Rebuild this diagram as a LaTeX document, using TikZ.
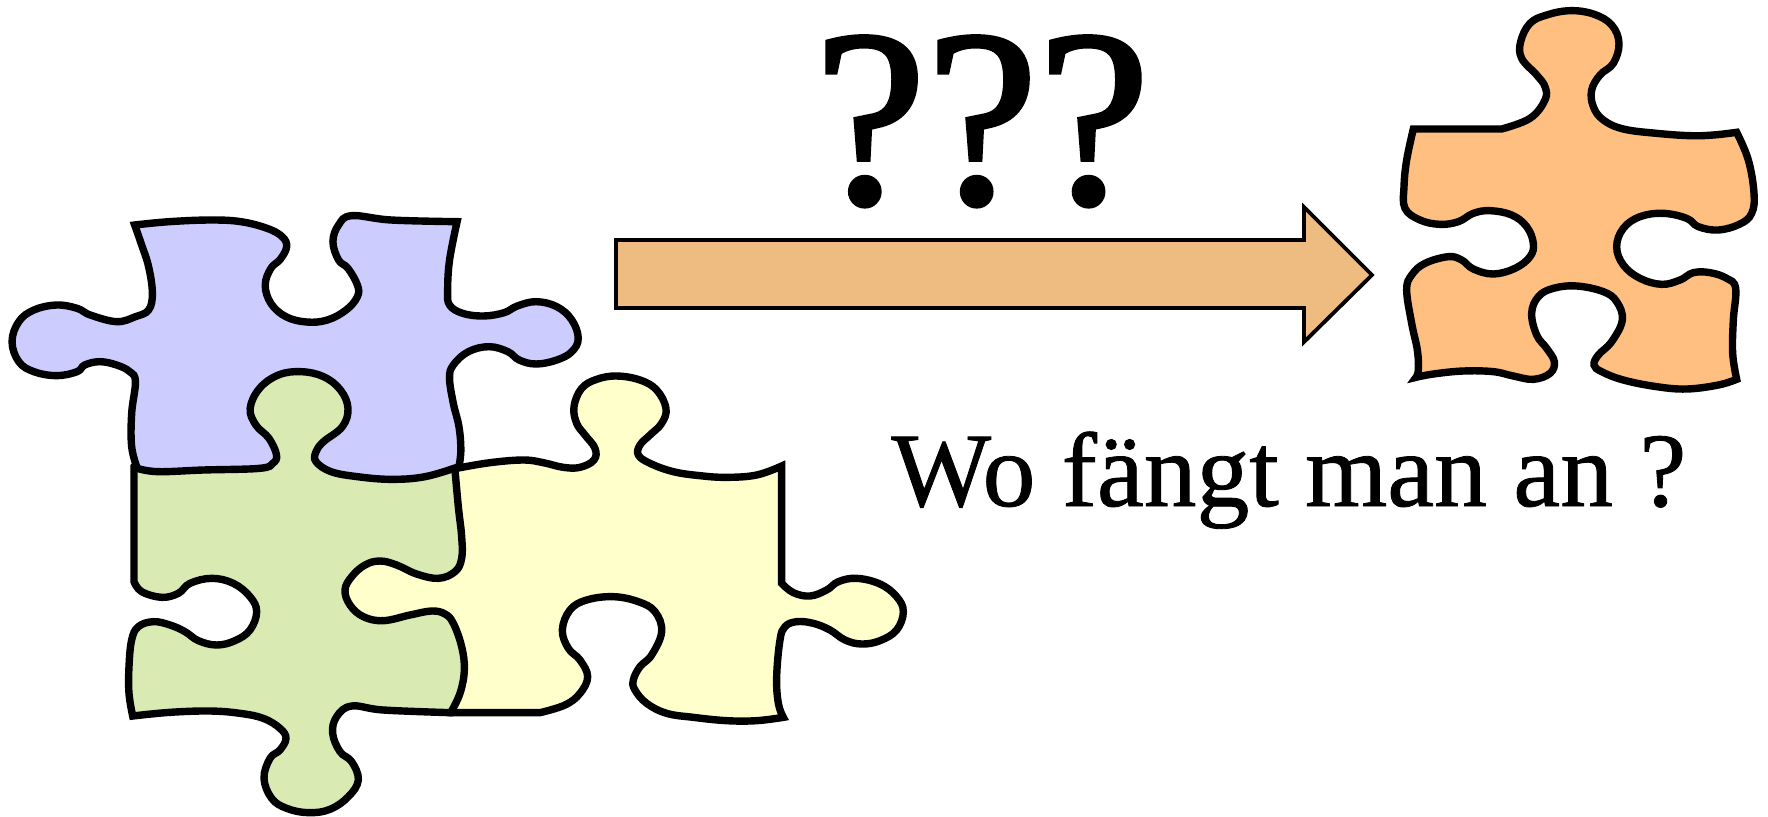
\documentclass[tikz,border=0pt]{standalone}
\usepackage{fontspec}
\setmainfont{Liberation Serif}
\newfontfamily\bigmarkfont[FakeBold=1.6]{Liberation Serif}
\newfontfamily\questionfont[FakeBold=0.8]{Liberation Serif}
\definecolor{cpurple}{HTML}{CCCCFF}
\definecolor{cgreen}{HTML}{D9EAB3}
\definecolor{cyellow}{HTML}{FFFFCC}
\definecolor{corange}{HTML}{FFBF80}
\definecolor{carrow}{HTML}{EEBC80}
\tikzset{piece/.style={draw=black,line width=3.7pt,line join=miter,miter limit=10},
 sm/.style={smooth,tension=0.65},
 bigmark/.style={inner sep=0pt,anchor=base west,font=\bigmarkfont\fontsize{126}{126}\selectfont},
 question/.style={inner sep=0pt,anchor=base west,font=\questionfont\fontsize{52.8}{52}\selectfont}}
\begin{document}
\begin{tikzpicture}[x=0.5pt,y=-0.5pt]
\useasboundingbox (0,0) rectangle (1768,816);
% yellow
\begin{scope}[shift={(440,360)},scale=1/3]
\draw[piece,fill=cyellow] plot[sm] coordinates {(50,325)(150,308)(250,300)(310,308)(370,322)(420,322)(462,300)(465,265)(435,225)(410,190)(402,140)(425,85)(470,58)(530,48)(600,60)(650,90)(678,145)(665,190)(630,225)(600,255)(595,285)(630,310)(700,335)(780,347)(860,352)(950,345)(1025,318)}
 -- (1025,670) -- plot[sm] coordinates {(1025,670)(1060,698)(1110,708)(1160,690)(1195,665)(1250,655)(1320,672)(1370,710)(1390,755)(1370,810)(1320,842)(1265,852)(1215,840)(1170,810)(1120,790)(1070,785)(1035,800)(1020,840)(1010,950)(1015,1030)(1030,1072)}
 -- plot[sm] coordinates {(1030,1072)(950,1082)(860,1082)(760,1072)(680,1060)(620,1030)(585,990)(580,960)(600,920)(635,885)(665,815)(645,755)(595,725)(520,710)(440,720)(390,750)(367,810)(385,865)(420,900)(443,950)(420,1000)(375,1035)(300,1058)}
 -- (30,1058) -- (-100,1000) -- (-330,760) -- (-330,600) -- (-100,500) -- cycle;
\end{scope}
% green
\begin{scope}[shift={(110,450)},scale=1/3]
\draw[piece,fill=cgreen] (72,50) -- (72,395) -- plot[sm] coordinates {(72,395)(95,425)(155,442)(205,430)(240,400)(305,385)(370,400)(420,440)(440,485)(420,540)(375,572)(320,585)(265,572)(225,545)(180,525)(130,515)(85,530)(65,570)(57,650)(57,730)(68,798)}
 -- plot[sm] coordinates {(68,798)(180,787)(300,783)(390,790)(460,805)(510,835)(528,865)(510,900)(480,925)(462,985)(485,1045)(530,1075)(595,1088)(660,1078)(715,1040)(745,990)(725,935)(690,905)(668,850)(680,800)(725,768)(820,780)(1022,788)}
 -- plot[sm] coordinates {(1022,788)(1050,730)(1063,660)(1055,590)(1030,520)(1005,492)(965,483)(900,495)(820,512)(760,500)(720,465)(705,420)(725,380)(765,345)(810,333)(860,345)(920,372)(985,385)(1035,365)(1055,325)(1055,260)(1045,170)(1035,60)}
 -- (780,-100) -- (780,-300) -- (250,-300) -- (250,-100) -- cycle;
\end{scope}
% purple
\begin{scope}[shift={(0,200)},xscale=0.3762,yscale=1/3]
\draw[piece,fill=cpurple] plot[sm] coordinates {(358,75)(450,65)(560,60)(640,65)(710,85)(750,110)(762,140)(745,178)(720,205)(705,255)(720,310)(760,350)(815,366)(870,360)(920,330)(950,290)(950,255)(925,205)(900,180)(885,125)(900,75)(935,47)(1040,60)(1215,65)}
 -- plot[sm] coordinates {(1215,65)(1195,180)(1190,270)(1195,315)(1230,340)(1285,348)(1340,338)(1375,318)(1425,305)(1480,320)(1520,360)(1537,415)(1520,455)(1480,480)(1425,492)(1380,480)(1350,455)(1300,440)(1245,455)(1205,495)(1195,535)(1205,610)(1220,680)(1225,750)(1220,800)}
 -- plot[sm] coordinates {(1220,800)(1130,830)(1040,838)(950,830)(880,815)(840,785)(840,755)(860,725)(910,680)(925,625)(905,570)(860,530)(800,515)(740,525)(690,565)(665,625)(680,675)(715,715)(735,765)(725,790)(690,805)(540,810)(420,815)(365,805)}
 -- plot[sm] coordinates {(365,805)(350,740)(350,640)(360,545)(345,515)(310,495)(265,485)(225,495)(205,515)(150,527)(90,515)(50,485)(32,425)(50,365)(90,330)(150,315)(205,325)(240,345)(310,365)(360,350)(395,330)(405,280)(395,200)(375,130)(358,75)} -- cycle;
\end{scope}
% orange
\begin{scope}[shift={(1390,0)},scale=1/3]
\draw[piece,fill=corange] (70,387) -- (335,387) -- plot[sm] coordinates {(335,387)(420,355)(465,300)(465,260)(440,225)(395,175)(392,125)(420,70)(470,45)(540,32)(610,42)(665,75)(687,130)(670,190)(630,225)(605,270)(610,320)(640,360)(700,387)(800,400)(900,407)(970,405)(1040,397)}
 -- plot[sm] coordinates {(1040,397)(1075,480)(1092,580)(1085,640)(1050,672)(985,690)(925,680)(890,655)(820,640)(750,650)(700,685)(680,740)(700,795)(750,835)(815,853)(870,840)(910,818)(960,818)(1010,835)(1037,865)(1030,960)(1028,1060)(1040,1138)}
 -- plot[sm] coordinates {(1040,1138)(985,1155)(890,1167)(800,1160)(700,1140)(635,1115)(612,1095)(625,1065)(665,1025)(697,960)(680,905)(640,875)(560,858)(490,865)(445,890)(425,940)(440,1005)(470,1045)(493,1085)(480,1120)(430,1138)(370,1128)(310,1115)(220,1113)(130,1122)(78,1132)}
 -- plot[sm] coordinates {(78,1132)(85,1110)(82,1050)(65,970)(50,870)(65,825)(105,790)(175,770)(215,780)(250,807)(310,822)(375,805)(420,770)(430,730)(410,680)(365,645)(300,632)(250,640)(205,665)(150,673)(90,660)(45,625)(42,560)(50,480)(70,387)} -- cycle;
\end{scope}
% arrow
\draw[draw=black,line width=1.9pt,fill=carrow,miter limit=10] (616,240) -- (1304,240) -- (1304,207) -- (1372,275) -- (1304,342) -- (1304,308) -- (616,308) -- cycle;
\node[bigmark] (marks) at (814,203) {???};
\node[question] (q) at (891,506) {Wo fängt man an ?};
\end{tikzpicture}
\end{document}
